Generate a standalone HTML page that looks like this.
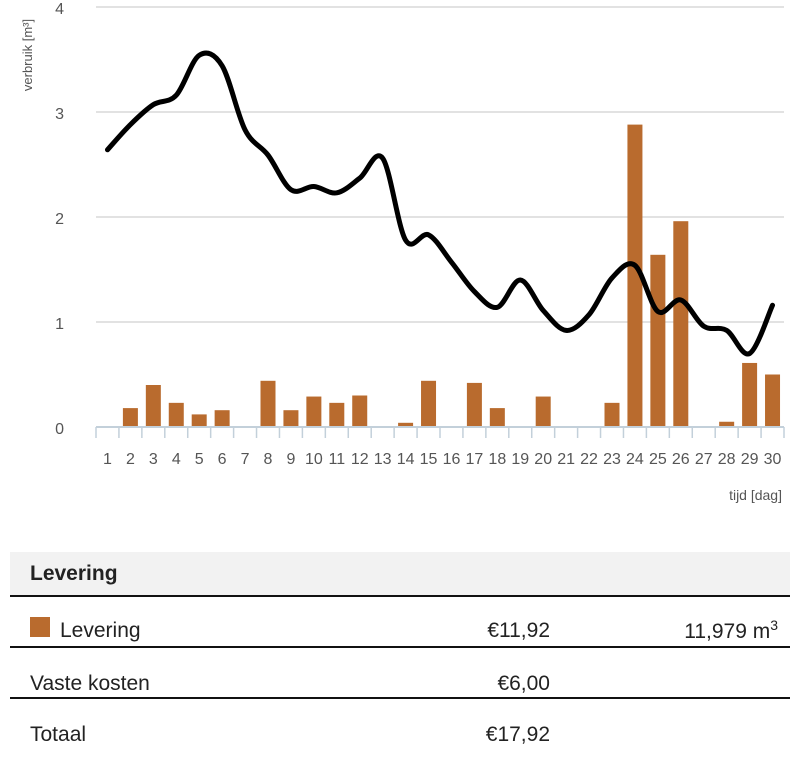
<!DOCTYPE html>
<html><head><meta charset="utf-8"><style>
body{margin:0;width:800px;height:781px;background:#fff;font-family:"Liberation Sans",sans-serif;overflow:hidden}
svg text{font-family:"Liberation Sans",sans-serif}
.row{position:absolute;left:10px;width:780px;font-size:21px;color:#222}
</style></head><body>
<svg width="800" height="520" style="position:absolute;left:0;top:0" id="chart"></svg>
<div style="position:absolute;left:10px;top:552px;width:780px;height:43px;background:#f2f2f2;border-bottom:2px solid #111"><span style="position:absolute;left:20px;top:10px;font-size:21px;font-weight:bold;color:#222">Levering</span></div>
<div class="row" style="top:597px;height:49px;border-bottom:2px solid #111">
<span style="position:absolute;left:20px;top:20px;width:20px;height:20px;background:#b96b2e"></span>
<span style="position:absolute;left:50px;top:22px">Levering</span>
<span style="position:absolute;right:240px;top:22px">€11,92</span>
<span style="position:absolute;right:12px;top:20px">11,979 m<sup style="font-size:14px">3</sup></span></div>
<div class="row" style="top:648px;height:49px;border-bottom:2px solid #111">
<span style="position:absolute;left:20px;top:24px">Vaste kosten</span>
<span style="position:absolute;right:240px;top:24px">€6,00</span></div>
<div class="row" style="top:699px;height:49px">
<span style="position:absolute;left:20px;top:24px">Totaal</span>
<span style="position:absolute;right:240px;top:24px">€17,92</span></div>
<script>
const days=[1,2,3,4,5,6,7,8,9,10,11,12,13,14,15,16,17,18,19,20,21,22,23,24,25,26,27,28,29,30];
const barValues=[0,0.18,0.40,0.23,0.12,0.16,0,0.44,0.16,0.29,0.23,0.30,0,0.04,0.44,0,0.42,0.18,0,0.29,0,0,0.23,2.88,1.64,1.96,0,0.05,0.61,0.50];
const lineValues=[2.64,2.88,3.07,3.16,3.54,3.44,2.83,2.59,2.26,2.29,2.23,2.37,2.56,1.78,1.83,1.57,1.29,1.14,1.40,1.11,0.92,1.07,1.42,1.54,1.10,1.21,0.96,0.92,0.70,1.16];
const yTicks=[0,1,2,3,4];
const svg=document.getElementById('chart');const NS='http://www.w3.org/2000/svg';
const x0=96,x1=784,y0=427,pu=105,bw=(x1-x0)/days.length;
const xC=i=>x0+bw*(i+0.5),yS=v=>y0-v*pu;
function mk(t,a){const e=document.createElementNS(NS,t);for(const k in a)e.setAttribute(k,a[k]);svg.appendChild(e);return e;}
yTicks.forEach(v=>{if(v>0){const g=mk('line',{x1:x0,x2:x1,y1:yS(v),y2:yS(v),stroke:'#d8d8d8','stroke-width':1.5});}
const t=mk('text',{x:64,y:yS(v)+7,'font-size':16,fill:'#555','text-anchor':'end'});t.textContent=v;});
const yt=mk('text',{x:0,y:0,'font-size':13,fill:'#555','text-anchor':'middle',transform:'translate(32,55) rotate(-90)'});yt.textContent='verbruik [m³]';
barValues.forEach((v,i)=>{if(v<=0)return;const r=mk('rect',{x:xC(i)-7.5,y:yS(v),width:15,height:v*pu,fill:'#b96b2e'});});
const ax=mk('line',{x1:x0,x2:x1,y1:y0,y2:y0,stroke:'#c3d0da','stroke-width':2});
for(let i=0;i<=days.length;i++){const tk=mk('line',{x1:x0+bw*i,x2:x0+bw*i,y1:y0,y2:y0+11,stroke:'#c3d0da','stroke-width':1.5});}
days.forEach((d,i)=>{const t=mk('text',{x:xC(i),y:464,'font-size':16,fill:'#555','text-anchor':'middle'});t.textContent=d;});
const xt=mk('text',{x:782,y:500,'font-size':14,fill:'#555','text-anchor':'end'});xt.textContent='tijd [dag]';
const P=lineValues.map((v,i)=>[xC(i),yS(v)]);let d='M'+P[0][0]+','+P[0][1];
for(let i=0;i<P.length-1;i++){const p0=P[Math.max(i-1,0)],p1=P[i],p2=P[i+1],p3=P[Math.min(i+2,P.length-1)];
d+=` C${p1[0]+(p2[0]-p0[0])/6},${p1[1]+(p2[1]-p0[1])/6} ${p2[0]-(p3[0]-p1[0])/6},${p2[1]-(p3[1]-p1[1])/6} ${p2[0]},${p2[1]}`;}
const ln=mk('path',{d:d,fill:'none',stroke:'#000','stroke-width':5,'stroke-linecap':'round','stroke-linejoin':'round'});
</script>
</body></html>
